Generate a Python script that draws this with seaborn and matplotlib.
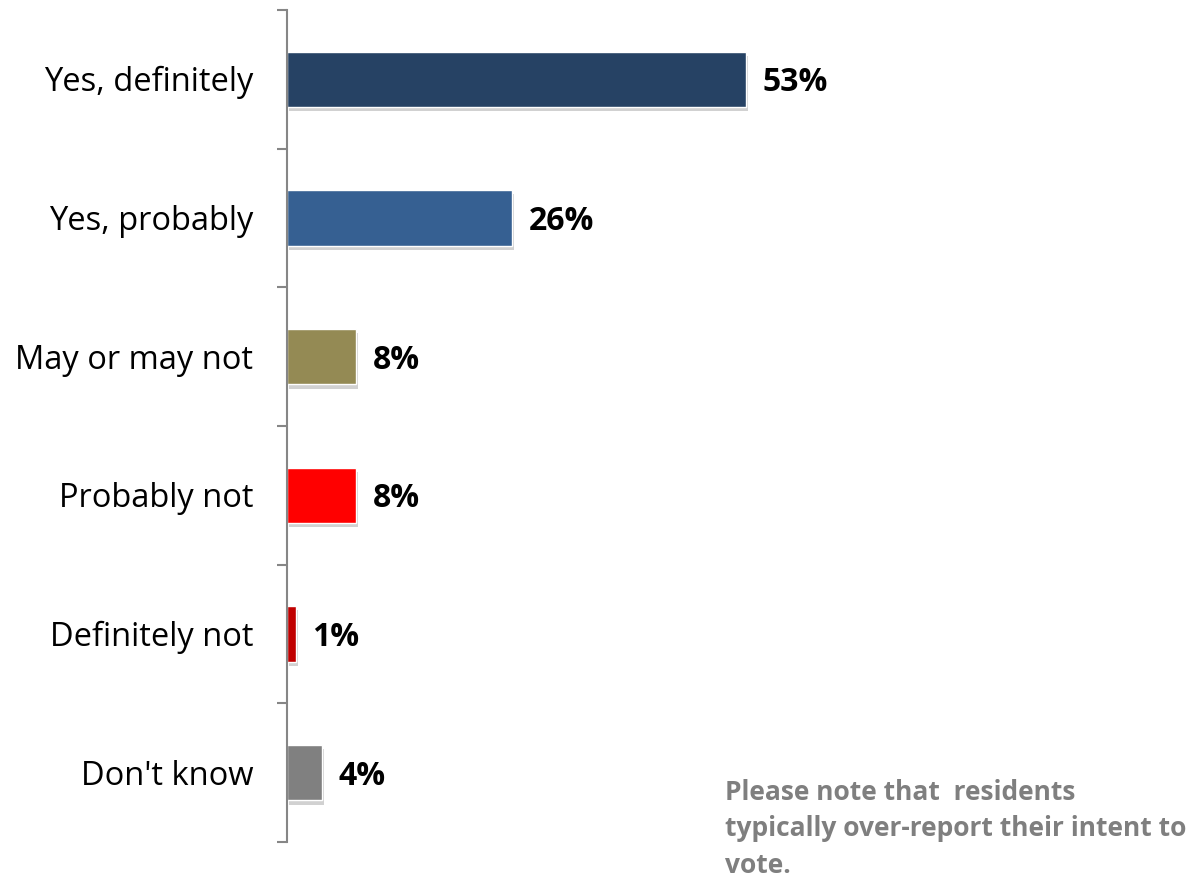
import numpy as np
import pandas as pd
import matplotlib
matplotlib.use("Agg")
import matplotlib.pyplot as plt
import matplotlib.patheffects as pe
import seaborn as sns

# 데이터
categories = ["Yes, definitely", "Yes, probably", "May or may not",
              "Probably not", "Definitely not", "Don't know"]
values = [53, 26, 8, 8, 1, 4]
colors = ["#264264", "#366092", "#948A54", "#FF0000", "#C00000", "#808080"]
note = "Please note that  residents\ntypically over-report their intent to\nvote."

df = pd.DataFrame({"cat": categories, "pct": values})

sns.set_style("white")
plt.rcParams["font.family"] = ["Open Sans", "DejaVu Sans"]

fig = plt.figure(figsize=(11.93, 8.81), dpi=100)
ax = fig.add_axes([287 / 1193, 39 / 881, 866 / 1193, 832 / 881])

sns.barplot(data=df, x="pct", y="cat", hue="cat", palette=colors,
            order=categories, orient="h", width=0.40, legend=False,
            saturation=1, ax=ax)

# 그림자 효과
for p in ax.patches:
    p.set_path_effects([pe.SimplePatchShadow(offset=(1.5, -3), alpha=0.18,
                                             shadow_rgbFace="#000000"),
                        pe.Normal()])

for i, v in enumerate(values):
    ax.text(v + 1.9, i + 0.025, f"{v}%", va="center", ha="left",
            fontsize=23, fontweight="bold", color="black")

ax.set_xlim(0, 100)
ax.set_ylim(len(categories) - 0.5, -0.5)
ax.set_xlabel("")
ax.set_ylabel("")
ax.set_xticks([])
ax.set_yticks(np.arange(-0.5, len(categories), 1))
ax.set_yticklabels([])
ax.tick_params(axis="y", left=True, length=7, width=1.5, color="#868686",
               direction="out")
for i, c in enumerate(categories):
    ax.text(-3.9, i + 0.025, c, ha="right", va="center", fontsize=23.5,
            color="black")

for s in ["top", "right", "bottom"]:
    ax.spines[s].set_visible(False)
ax.spines["left"].set_color("#868686")
ax.spines["left"].set_linewidth(1.5)

fig.text(725 / 1193, 1 - 779 / 881, note, ha="left", va="top",
         fontsize=19, fontweight="bold", color="#7F7F7F", linespacing=1.45)

fig.savefig("out.png", dpi=100)
